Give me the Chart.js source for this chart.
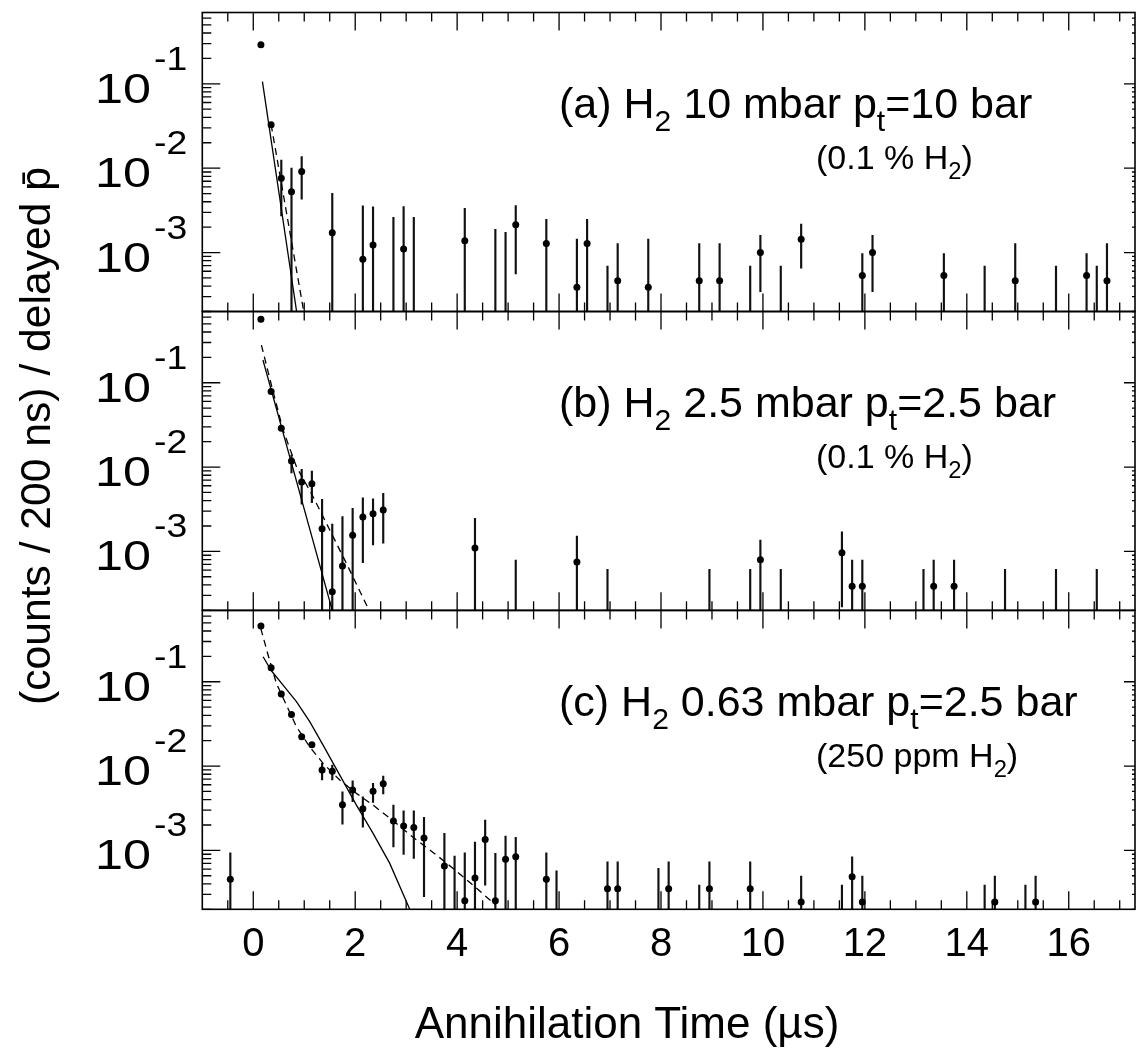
<!DOCTYPE html>
<html>
<head>
<meta charset="utf-8">
<script src="https://cdn.jsdelivr.net/npm/chart.js@4.4.0/dist/chart.umd.min.js"></script>
<style>
html,body{margin:0;padding:0;background:#fff;}
#wrap{position:relative;width:1139px;height:1053px;overflow:hidden;background:#fff;}
#wrap canvas{position:absolute;left:0;top:0;}
</style>
</head>
<body>
<div id="wrap">
<canvas id="cA" width="1139" height="1053"></canvas>
<canvas id="cB" width="1139" height="1053"></canvas>
<canvas id="cC" width="1139" height="1053"></canvas>
</div>
<script>
// ---------------- data ----------------
const XMIN = -1, XMAX = 17.3;
const YMIN = 2e-4, YMAX = 0.7;
const X_TICK_LABELS = [0, 2, 4, 6, 8, 10, 12, 14, 16];
const Y_LABEL_VALUES = [0.1, 0.01, 0.001];
const Y_LABEL_EXPS = ['-1', '-2', '-3'];

// Panel (a): bin centre, value, error-bar top, error-bar bottom (null bottom = below axis, null top = no bar)
const A_X  = [0.15, 0.35, 0.55, 0.75, 0.95, 1.55, 2.15, 2.35, 2.75, 2.95, 3.15, 4.15, 4.75, 4.95, 5.15, 5.75, 6.35, 6.55, 6.95, 7.15, 7.75, 8.75, 9.15, 9.75, 9.95, 10.35, 10.75, 11.95, 12.15, 13.55, 14.35, 14.95, 15.75, 16.35, 16.55, 16.75];
const A_Y  = [0.29, 0.0326, 0.0076, 0.00527, 0.00912, 0.00172, 0.000832, 0.00123, null, 0.0011, null, 0.00138, null, null, 0.00214, 0.00128, 0.000387, 0.00128, null, 0.000463, 0.000387, 0.000463, 0.000463, null, 0.001, null, 0.00144, 0.000533, 0.001, 0.000533, null, 0.000463, null, 0.000533, null, 0.000463];
const A_HI = [null, null, 0.0125, 0.01, 0.0137, 0.00504, 0.00357, 0.00347, 0.00262, 0.0035, 0.00262, 0.00335, 0.00189, 0.00174, 0.0036, 0.00248, 0.00144, 0.00248, 0.000693, 0.00128, 0.00144, 0.00128, 0.00128, 0.000693, 0.0016, 0.000693, 0.00217, 0.000973, 0.0016, 0.000973, 0.000693, 0.00128, 0.000693, 0.000973, 0.000693, 0.00128];
const A_LO = [null, null, 0.00272, null, 0.00428, null, null, null, null, null, null, null, null, null, 0.000557, null, null, null, null, null, null, null, null, null, 0.000344, null, 0.000652, null, 0.000344, null, null, null, null, null, null, null];
const A_SOLID_X = [0.18, 0.85];
const A_SOLID_Y = [0.106, 0.0002];
const A_DASH_X  = [0.35, 0.99];
const A_DASH_Y  = [0.033, 0.0002];

// Panel (b)
const B_X  = [0.15, 0.35, 0.55, 0.75, 0.95, 1.15, 1.35, 1.55, 1.75, 1.95, 2.15, 2.35, 2.55, 4.35, 5.15, 6.35, 6.95, 8.95, 9.75, 9.95, 10.35, 11.55, 11.75, 11.95, 13.15, 13.35, 13.75, 14.75, 15.75, 16.55];
const B_Y  = [0.565, 0.079, 0.0288, 0.01178, 0.00664, 0.00634, 0.00185, 0.000332, 0.00067, 0.00155, 0.00255, 0.00279, 0.00309, 0.0011, null, 0.000746, null, null, null, 0.000796, null, 0.000964, 0.000387, 0.000387, null, 0.000387, 0.000387, null, null, null];
const B_HI = [null, null, null, 0.01386, 0.0094, 0.00898, 0.00414, 0.00211, 0.00258, 0.00323, 0.00433, 0.00421, 0.00488, 0.00246, 0.000789, 0.00152, 0.000611, 0.000611, 0.000611, 0.00136, 0.000611, 0.00171, 0.000789, 0.000789, 0.000611, 0.000789, 0.000789, 0.000611, 0.000611, 0.000611];
const B_LO = [null, null, null, 0.00855, 0.00364, 0.00378, null, null, null, null, 0.000733, 0.00119, 0.00125, null, null, null, null, null, null, null, null, 0.00022, null, null, null, null, null, null, null, null];
const B_SOLID_X = [0.19, 1.55];
const B_SOLID_Y = [0.186, 0.0002];
const B_DASH_X  = [0.16, 0.356, 0.585, 0.847, 1.174, 1.501, 1.828, 2.253];
const B_DASH_Y  = [0.28, 0.0939, 0.0275, 0.0101, 0.00445, 0.00179, 0.000721, 0.000211];

// Panel (c)
const C_X  = [-0.45, 0.15, 0.35, 0.55, 0.75, 0.95, 1.15, 1.35, 1.55, 1.75, 1.95, 2.15, 2.35, 2.55, 2.75, 2.95, 3.15, 3.35, 3.75, 3.95, 4.15, 4.35, 4.55, 4.75, 4.95, 5.15, 5.75, 5.95, 6.95, 7.15, 7.95, 8.15, 8.75, 8.95, 9.75, 10.75, 11.55, 11.75, 11.95, 14.35, 14.55, 15.15, 15.35];
const C_Y  = [0.000453, 0.458, 0.1466, 0.0715, 0.041, 0.0223, 0.0179, 0.00898, 0.00865, 0.00348, 0.00519, 0.00311, 0.00501, 0.00616, 0.00223, 0.00194, 0.00187, 0.0014, 0.000652, null, 0.000252, 0.000469, 0.00135, 0.000252, 0.000782, 0.000839, 0.000453, null, 0.000351, 0.000351, null, 0.000351, null, 0.000351, 0.000351, 0.000244, null, 0.000486, 0.000244, null, 0.000244, null, 0.000244];
const C_HI = [0.000937, null, null, null, null, null, null, 0.01076, 0.01028, 0.00496, 0.0067, 0.00433, 0.00624, 0.0076, 0.00345, 0.00295, 0.00295, 0.00246, 0.00159, 0.000855, 0.000937, 0.00125, 0.00229, 0.00092, 0.00148, 0.00143, 0.000937, 0.000573, 0.000733, 0.000733, 0.000611, 0.000733, 0.000387, 0.000733, 0.000733, 0.000495, 0.000387, 0.000839, 0.000495, 0.000387, 0.000495, 0.000387, 0.000495];
const C_LO = [null, null, null, null, null, null, null, 0.00683, 0.00683, 0.00205, 0.00378, 0.00188, 0.00371, 0.00466, 0.0011, 0.000897, 0.000804, 0.000282, null, null, null, null, 0.000387, null, null, null, null, null, null, null, null, null, null, null, null, null, null, null, null, null, null, null, null];
const C_SOLID_X = [0.193, 0.356, 0.585, 0.847, 1.108, 1.370, 1.697, 2.024, 2.351, 2.678, 3.07];
const C_SOLID_Y = [0.198, 0.135, 0.0914, 0.058, 0.0336, 0.0177, 0.00782, 0.00344, 0.00159, 0.000701, 0.0002];
const C_DASH_X  = [0.147, 0.291, 0.454, 0.650, 0.847, 1.108, 1.370, 1.697, 2.024, 2.351, 2.743, 3.136, 3.528, 3.921, 4.313, 4.758];
const C_DASH_Y  = [0.43, 0.2075, 0.0957, 0.053, 0.0293, 0.0169, 0.01076, 0.00683, 0.00474, 0.00344, 0.00224, 0.00143, 0.000946, 0.000611, 0.000387, 0.000224];

// text
const LABEL_A = [['(a) H', 0], ['2', 1], [' 10 mbar p', 0], ['t', 1], ['=10 bar', 0]];
const LABEL_B = [['(b) H', 0], ['2', 1], [' 2.5 mbar p', 0], ['t', 1], ['=2.5 bar', 0]];
const LABEL_C = [['(c) H', 0], ['2', 1], [' 0.63 mbar p', 0], ['t', 1], ['=2.5 bar', 0]];
const SUB_A = [['(0.1 % H', 0], ['2', 1], [')', 0]];
const SUB_B = [['(0.1 % H', 0], ['2', 1], [')', 0]];
const SUB_C = [['(250 ppm H', 0], ['2', 1], [')', 0]];
const X_TITLE = 'Annihilation Time (\u00b5s)';
const Y_TITLE = '(counts / 200 ns) / delayed p\u0304';

// ---------------- layout ----------------
const FONT = '"Liberation Sans", Arial, Helvetica, sans-serif';
const PLOT_LEFT = 202.3;
const PANEL_TOP = [12.5, 311.5, 610.5];
const PANEL_BOTTOM = [311.5, 610.3, 909.3];
const XAXIS_H = 60;

function drawRich(ctx, parts, x, y, size, subScale, subDrop) {
  let cx = x;
  ctx.textAlign = 'left';
  ctx.textBaseline = 'alphabetic';
  for (const [t, kind] of parts) {
    const fs = kind ? size * subScale : size;
    ctx.font = fs + 'px ' + FONT;
    ctx.fillText(t, cx, y + (kind === 1 ? size * subDrop : 0));
    cx += ctx.measureText(t).width;
  }
}

function drawStretched(ctx, text, x, y, size, sx) {
  ctx.save();
  ctx.font = size + 'px ' + FONT;
  ctx.textAlign = 'left';
  ctx.textBaseline = 'alphabetic';
  ctx.translate(x, y);
  ctx.scale(sx, 1);
  ctx.fillText(text, 0, 0);
  const w = ctx.measureText(text).width * sx;
  ctx.restore();
  return w;
}

const panelPlugin = {
  id: 'panelDecor',
  afterDatasetsDraw(chart, args, opts) {
    const ctx = chart.ctx, a = chart.chartArea;
    const xs = chart.scales.x, ys = chart.scales.y;
    ctx.save();
    ctx.strokeStyle = '#000';
    ctx.fillStyle = '#000';
    ctx.lineWidth = 1.3;
    ctx.beginPath();
    for (let v = -0.5; v <= XMAX + 1e-9; v += 0.5) {
      const px = xs.getPixelForValue(v);
      const major = Math.abs(v / 2 - Math.round(v / 2)) < 1e-9;
      const len = major ? 18 : 9;
      ctx.moveTo(px, a.top); ctx.lineTo(px, a.top + len);
      ctx.moveTo(px, a.bottom); ctx.lineTo(px, a.bottom - len);
    }
    for (let e = -4; e <= 0; e++) {
      for (let k = 1; k <= 9; k++) {
        const v = k * Math.pow(10, e);
        if (v < YMIN || v > YMAX) continue;
        const py = ys.getPixelForValue(v);
        const lenL = k === 1 ? 18 : 9;
        const lenR = k === 1 ? 11 : 3;
        ctx.moveTo(a.left, py); ctx.lineTo(a.left + lenL, py);
        ctx.moveTo(a.right, py); ctx.lineTo(a.right - lenR, py);
      }
    }
    ctx.stroke();
    ctx.lineWidth = 1.6;
    ctx.strokeRect(a.left, a.top, a.right - a.left, a.bottom - a.top);

    // y tick labels 10^-n
    for (let i = 0; i < Y_LABEL_VALUES.length; i++) {
      const py = ys.getPixelForValue(Y_LABEL_VALUES[i]);
      const w = drawStretched(ctx, '10', 95, py + 19, 43, 1.17);
      drawStretched(ctx, Y_LABEL_EXPS[i], 95 + w + 3, py - 14, 34, 1.1);
    }

    // panel labels
    drawRich(ctx, opts.label, 559, a.top + 105.5, 43, 0.7, 0.3);
    drawRich(ctx, opts.sub, 816, a.top + 156, 34, 0.7, 0.3);

    if (opts.titles) {
      ctx.font = '44px ' + FONT;
      ctx.textAlign = 'center';
      ctx.textBaseline = 'alphabetic';
      ctx.fillText(X_TITLE, 627, 1038);

      ctx.save();
      ctx.translate(50, 436);
      ctx.rotate(-Math.PI / 2);
      ctx.font = '42px ' + FONT;
      const tw = ctx.measureText(Y_TITLE).width;
      ctx.scale(538 / tw, 1);
      ctx.textAlign = 'center';
      ctx.fillText(Y_TITLE, 0, 0);
      ctx.restore();
    }
    ctx.restore();
  }
};

function buildChart(id, idx, X, Y, HI, LO, SX, SY, DX, DY, label, sub, bottom) {
  const bars = [];
  const pts = [];
  for (let i = 0; i < X.length; i++) {
    if (HI[i] !== null) bars.push({ x: X[i], y: [LO[i] === null ? YMIN * 0.3 : LO[i], HI[i]] });
    if (Y[i] !== null) pts.push({ x: X[i], y: Y[i] });
  }
  const solid = SX.map((v, i) => ({ x: v, y: SY[i] }));
  const dashed = DX.map((v, i) => ({ x: v, y: DY[i] }));
  const xScale = {
    type: 'linear',
    min: XMIN,
    max: XMAX,
    offset: false,
    display: bottom,
    grid: { display: false, drawTicks: false },
    border: { display: false },
    ticks: {
      color: '#000',
      font: { size: 40, family: FONT },
      padding: 12,
      maxRotation: 0,
      autoSkip: false
    },
    afterBuildTicks: (s) => { s.ticks = X_TICK_LABELS.map(v => ({ value: v })); }
  };
  if (bottom) xScale.afterFit = (s) => { s.height = XAXIS_H; };
  return new Chart(document.getElementById(id), {
    type: 'scatter',
    data: {
      datasets: [
        { type: 'bar', data: bars, backgroundColor: '#111', borderWidth: 0, barThickness: 1.5, grouped: false, order: 3 },
        { type: 'line', data: solid, borderColor: '#000', borderWidth: 1.3, pointRadius: 0, fill: false, tension: 0, order: 2 },
        { type: 'line', data: dashed, borderColor: '#000', borderWidth: 1.3, borderDash: [7, 5], pointRadius: 0, fill: false, tension: 0, order: 2 },
        { type: 'scatter', data: pts, backgroundColor: '#000', borderColor: '#000', pointRadius: 3.5, borderWidth: 0, order: 1 }
      ]
    },
    options: {
      responsive: false,
      devicePixelRatio: 1,
      animation: false,
      events: [],
      layout: {
        padding: {
          left: PLOT_LEFT,
          right: 0,
          top: PANEL_TOP[idx],
          bottom: bottom ? (1053 - PANEL_BOTTOM[idx] - XAXIS_H) : (1053 - PANEL_BOTTOM[idx])
        }
      },
      plugins: {
        legend: { display: false },
        tooltip: { enabled: false },
        panelDecor: { label: label, sub: sub, titles: bottom }
      },
      scales: {
        x: xScale,
        y: {
          type: 'logarithmic',
          min: YMIN,
          max: YMAX,
          display: false
        }
      }
    },
    plugins: [panelPlugin]
  });
}

buildChart('cA', 0, A_X, A_Y, A_HI, A_LO, A_SOLID_X, A_SOLID_Y, A_DASH_X, A_DASH_Y, LABEL_A, SUB_A, false);
buildChart('cB', 1, B_X, B_Y, B_HI, B_LO, B_SOLID_X, B_SOLID_Y, B_DASH_X, B_DASH_Y, LABEL_B, SUB_B, false);
buildChart('cC', 2, C_X, C_Y, C_HI, C_LO, C_SOLID_X, C_SOLID_Y, C_DASH_X, C_DASH_Y, LABEL_C, SUB_C, true);
</script>
</body>
</html>
